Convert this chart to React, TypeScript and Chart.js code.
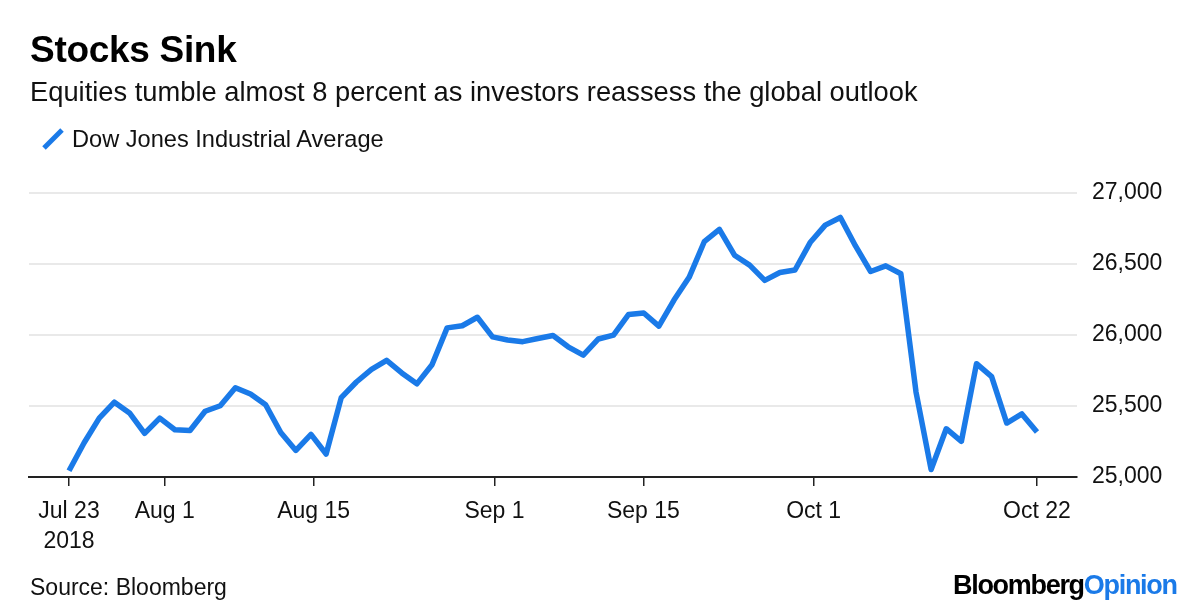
import React, { useEffect, useRef } from "react";
import { Chart, registerables } from "chart.js";

Chart.register(...registerables);

// ---- Data ----
const tradingDates = [
  "2018-07-23", "2018-07-24", "2018-07-25", "2018-07-26", "2018-07-27",
  "2018-07-30", "2018-07-31", "2018-08-01", "2018-08-02", "2018-08-03",
  "2018-08-06", "2018-08-07", "2018-08-08", "2018-08-09", "2018-08-10",
  "2018-08-13", "2018-08-14", "2018-08-15", "2018-08-16", "2018-08-17",
  "2018-08-20", "2018-08-21", "2018-08-22", "2018-08-23", "2018-08-24",
  "2018-08-27", "2018-08-28", "2018-08-29", "2018-08-30", "2018-08-31",
  "2018-09-04", "2018-09-05", "2018-09-06", "2018-09-07",
  "2018-09-10", "2018-09-11", "2018-09-12", "2018-09-13", "2018-09-14",
  "2018-09-17", "2018-09-18", "2018-09-19", "2018-09-20", "2018-09-21",
  "2018-09-24", "2018-09-25", "2018-09-26", "2018-09-27", "2018-09-28",
  "2018-10-01", "2018-10-02", "2018-10-03", "2018-10-04", "2018-10-05",
  "2018-10-08", "2018-10-09", "2018-10-10", "2018-10-11", "2018-10-12",
  "2018-10-15", "2018-10-16", "2018-10-17", "2018-10-18", "2018-10-19",
  "2018-10-22",
];

const dowValues = [
  25044, 25241, 25415, 25527, 25451,
  25307, 25415, 25333, 25327, 25463,
  25502, 25629, 25584, 25509, 25313,
  25187, 25300, 25162, 25559, 25669,
  25758, 25822, 25733, 25656, 25790,
  26050, 26065, 26125, 25987, 25965,
  25953, 25975, 25996, 25917,
  25858, 25972, 25999, 26145, 26155,
  26062, 26246, 26406, 26657, 26744,
  26562, 26492, 26385, 26440, 26458,
  26651, 26774, 26828, 26627, 26447,
  26487, 26431, 25599, 25053, 25340,
  25251, 25798, 25707, 25380, 25444,
  25317,
];

const tickDates = [
  "2018-07-23", "2018-08-01", "2018-08-15", "2018-09-01",
  "2018-09-15", "2018-10-01", "2018-10-22",
];
const tickLabels: (string | string[])[] = [
  ["Jul 23", "2018"], "Aug 1", "Aug 15", "Sep 1", "Sep 15", "Oct 1", "Oct 22",
];
const yTickValues = [25000, 25500, 26000, 26500, 27000];

const seriesName = "Dow Jones Industrial Average";
const titleText = "Stocks Sink";
const subtitleText =
  "Equities tumble almost 8 percent as investors reassess the global outlook";
const sourceText = "Source: Bloomberg";

const FONT = "'Liberation Sans', Arial, Helvetica, sans-serif";
const BLUE = "#1a7ae8";

// tick positions on the trading-day index axis, by calendar fraction
const t0 = Date.parse(tradingDates[0]);
const tEnd = Date.parse(tradingDates[tradingDates.length - 1]);
const tickPositions = tickDates.map(
  (d) => ((Date.parse(d) - t0) / (tEnd - t0)) * (tradingDates.length - 1)
);

export default function App() {
  const canvasRef = useRef<HTMLCanvasElement | null>(null);

  useEffect(() => {
    const canvas = canvasRef.current;
    if (!canvas) return;
    const points = dowValues.map((v, i) => ({ x: i, y: v }));
    const chart = new Chart(canvas, {
      type: "line",
      data: {
        datasets: [
          {
            label: seriesName,
            data: points,
            borderColor: BLUE,
            backgroundColor: BLUE,
            borderWidth: 5.5,
            pointRadius: 0,
            tension: 0,
            borderJoinStyle: "round",
            borderCapStyle: "butt",
          },
        ],
      },
      options: {
        responsive: false,
        animation: false,
        devicePixelRatio: 1,
        layout: { padding: { left: 29, top: 193, right: 0, bottom: 0 } },
        plugins: {
          legend: { display: false },
          title: { display: false },
          tooltip: { enabled: false },
        },
        scales: {
          x: {
            type: "linear",
            min: -2.645,
            max: 66.645,
            afterBuildTicks: (scale: any) => {
              scale.ticks = tickPositions.map((v) => ({ value: v }));
            },
            afterFit: (scale: any) => {
              scale.height = 135;
            },
            grid: {
              drawOnChartArea: false,
              drawTicks: true,
              tickLength: 9,
              color: "#222",
              lineWidth: 1.5,
            },
            border: { display: true, color: "#222", width: 2 },
            ticks: {
              autoSkip: false,
              maxRotation: 0,
              minRotation: 0,
              padding: 11,
              color: "#111",
              font: { family: FONT, size: 23, lineHeight: 1.3 },
              callback: (_v: any, index: number) => tickLabels[index],
            },
          },
          y: {
            position: "right",
            min: 25000,
            max: 27000,
            afterBuildTicks: (scale: any) => {
              scale.ticks = yTickValues.map((v) => ({ value: v }));
            },
            afterFit: (scale: any) => {
              scale.width = 123;
            },
            grid: {
              drawTicks: false,
              color: (ctx: any) =>
                ctx.tick && ctx.tick.value === 25000 ? "rgba(0,0,0,0)" : "#e9e9e9",
              lineWidth: 2,
            },
            border: { display: false },
            ticks: {
              padding: 15,
              color: "#111",
              font: { family: FONT, size: 23 },
              callback: (v: any) => Number(v).toLocaleString("en-US"),
            },
          },
        },
      },
    } as any);
    return () => chart.destroy();
  }, []);

  const abs = (style: React.CSSProperties): React.CSSProperties => ({
    position: "absolute",
    whiteSpace: "nowrap",
    lineHeight: 1,
    fontFamily: FONT,
    color: "#111",
    ...style,
  });

  return (
    <div
      style={{
        position: "fixed",
        left: 0,
        top: 0,
        width: 1200,
        height: 612,
        background: "#fff",
        overflow: "hidden",
      }}
    >
      <canvas
        ref={canvasRef}
        width={1200}
        height={612}
        style={{ position: "absolute", left: 0, top: 0, width: 1200, height: 612 }}
      />
      <div style={abs({ left: 30, top: 31, fontSize: 37, fontWeight: 700, color: "#000", letterSpacing: -0.3 })}>
        {titleText}
      </div>
      <div style={abs({ left: 30, top: 78, fontSize: 27.3 })}>{subtitleText}</div>
      <svg
        width={30}
        height={30}
        style={{ position: "absolute", left: 40, top: 125 }}
      >
        <line x1={4} y1={23} x2={22} y2={5} stroke={BLUE} strokeWidth={5} strokeLinecap="butt" />
      </svg>
      <div style={abs({ left: 72, top: 128, fontSize: 23.6 })}>{seriesName}</div>
      <div style={abs({ left: 30, top: 576, fontSize: 23 })}>{sourceText}</div>
      <div style={abs({ left: 953, top: 572, fontSize: 27, fontWeight: 700, letterSpacing: -1.3, color: "#000" })}>
        Bloomberg<span style={{ color: BLUE }}>Opinion</span>
      </div>
    </div>
  );
}
